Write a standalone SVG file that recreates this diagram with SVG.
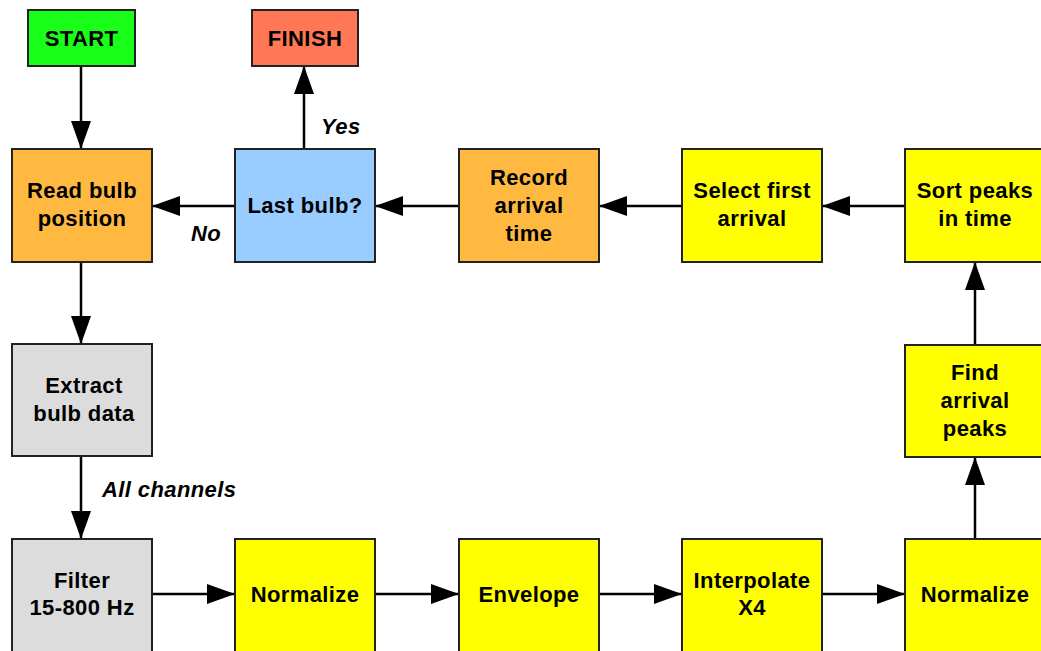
<svg xmlns="http://www.w3.org/2000/svg" width="1041" height="651" viewBox="0 0 1041 651">
<defs>
<marker id="ah" markerWidth="28" markerHeight="20" refX="28" refY="10" orient="auto" markerUnits="userSpaceOnUse">
<path d="M0,0 L28,10 L0,20 Z" fill="#000"/>
</marker>
<style>
.box{stroke:#222;stroke-width:2}
.t{font-family:"Liberation Sans",Arial,sans-serif;font-weight:bold;font-size:22px;letter-spacing:0.4px;text-anchor:middle;fill:#000}
.lbl{font-family:"Liberation Sans",Arial,sans-serif;font-weight:bold;font-style:italic;font-size:22px;letter-spacing:0.4px;fill:#000}
.c{stroke:#000;stroke-width:2.5;fill:none;marker-end:url(#ah)}
.y{fill:#ffff00}.o{fill:#ffb940}.g{fill:#dcdcdc}
</style>
</defs>
<rect width="1041" height="651" fill="#fff"/>
<g id="connectors">
<path class="c" d="M81,66 V149"/>
<path class="c" d="M304,149 V66"/>
<path class="c" d="M235,206 H152"/>
<path class="c" d="M459,206 H375"/>
<path class="c" d="M682,206 H599"/>
<path class="c" d="M905,206 H822"/>
<path class="c" d="M81,262 V344"/>
<path class="c" d="M81,456 V539"/>
<path class="c" d="M152,594 H235"/>
<path class="c" d="M375,594 H459"/>
<path class="c" d="M599,594 H682"/>
<path class="c" d="M822,594 H905"/>
<path class="c" d="M975,539 V457"/>
<path class="c" d="M975,345 V262"/>
<text class="lbl" x="321" y="134">Yes</text>
<text class="lbl" x="191" y="241">No</text>
<text class="lbl" x="102" y="497">All channels</text>
</g>
<g id="start"><rect class="box" x="28" y="10" width="107" height="56" fill="#1aff1a"/><text class="t" x="81.5" y="46">START</text></g>
<g id="finish"><rect class="box" x="252" y="10" width="106" height="56" fill="#ff7755"/><text class="t" x="305" y="46">FINISH</text></g>
<g id="read"><rect class="box o" x="12" y="149" width="140" height="113"/><text class="t" x="82" y="198">Read bulb</text><text class="t" x="82" y="226">position</text></g>
<g id="last"><rect class="box" x="235" y="149" width="140" height="113" fill="#99ccff"/><text class="t" x="305" y="213">Last bulb?</text></g>
<g id="record"><rect class="box o" x="459" y="149" width="140" height="113"/><text class="t" x="529" y="185">Record</text><text class="t" x="529" y="213">arrival</text><text class="t" x="529" y="241">time</text></g>
<g id="select"><rect class="box y" x="682" y="149" width="140" height="113"/><text class="t" x="752" y="198">Select first</text><text class="t" x="752" y="226">arrival</text></g>
<g id="sort"><rect class="box y" x="905" y="149" width="140" height="113"/><text class="t" x="975" y="198">Sort peaks</text><text class="t" x="975" y="226">in time</text></g>
<g id="extract"><rect class="box g" x="12" y="344" width="140" height="112"/><text class="t" x="84" y="393">Extract</text><text class="t" x="84" y="421">bulb data</text></g>
<g id="find"><rect class="box y" x="905" y="345" width="140" height="112"/><text class="t" x="975" y="380">Find</text><text class="t" x="975" y="408">arrival</text><text class="t" x="975" y="436">peaks</text></g>
<g id="filter"><rect class="box g" x="12" y="539" width="140" height="113"/><text class="t" x="82" y="588">Filter</text><text class="t" x="82" y="615">15-800 Hz</text></g>
<g id="norm1"><rect class="box y" x="235" y="539" width="140" height="113"/><text class="t" x="305" y="602">Normalize</text></g>
<g id="envelope"><rect class="box y" x="459" y="539" width="140" height="113"/><text class="t" x="529" y="602">Envelope</text></g>
<g id="interp"><rect class="box y" x="682" y="539" width="140" height="113"/><text class="t" x="752" y="588">Interpolate</text><text class="t" x="752" y="615">X4</text></g>
<g id="norm2"><rect class="box y" x="905" y="539" width="140" height="113"/><text class="t" x="975" y="602">Normalize</text></g>
</svg>
